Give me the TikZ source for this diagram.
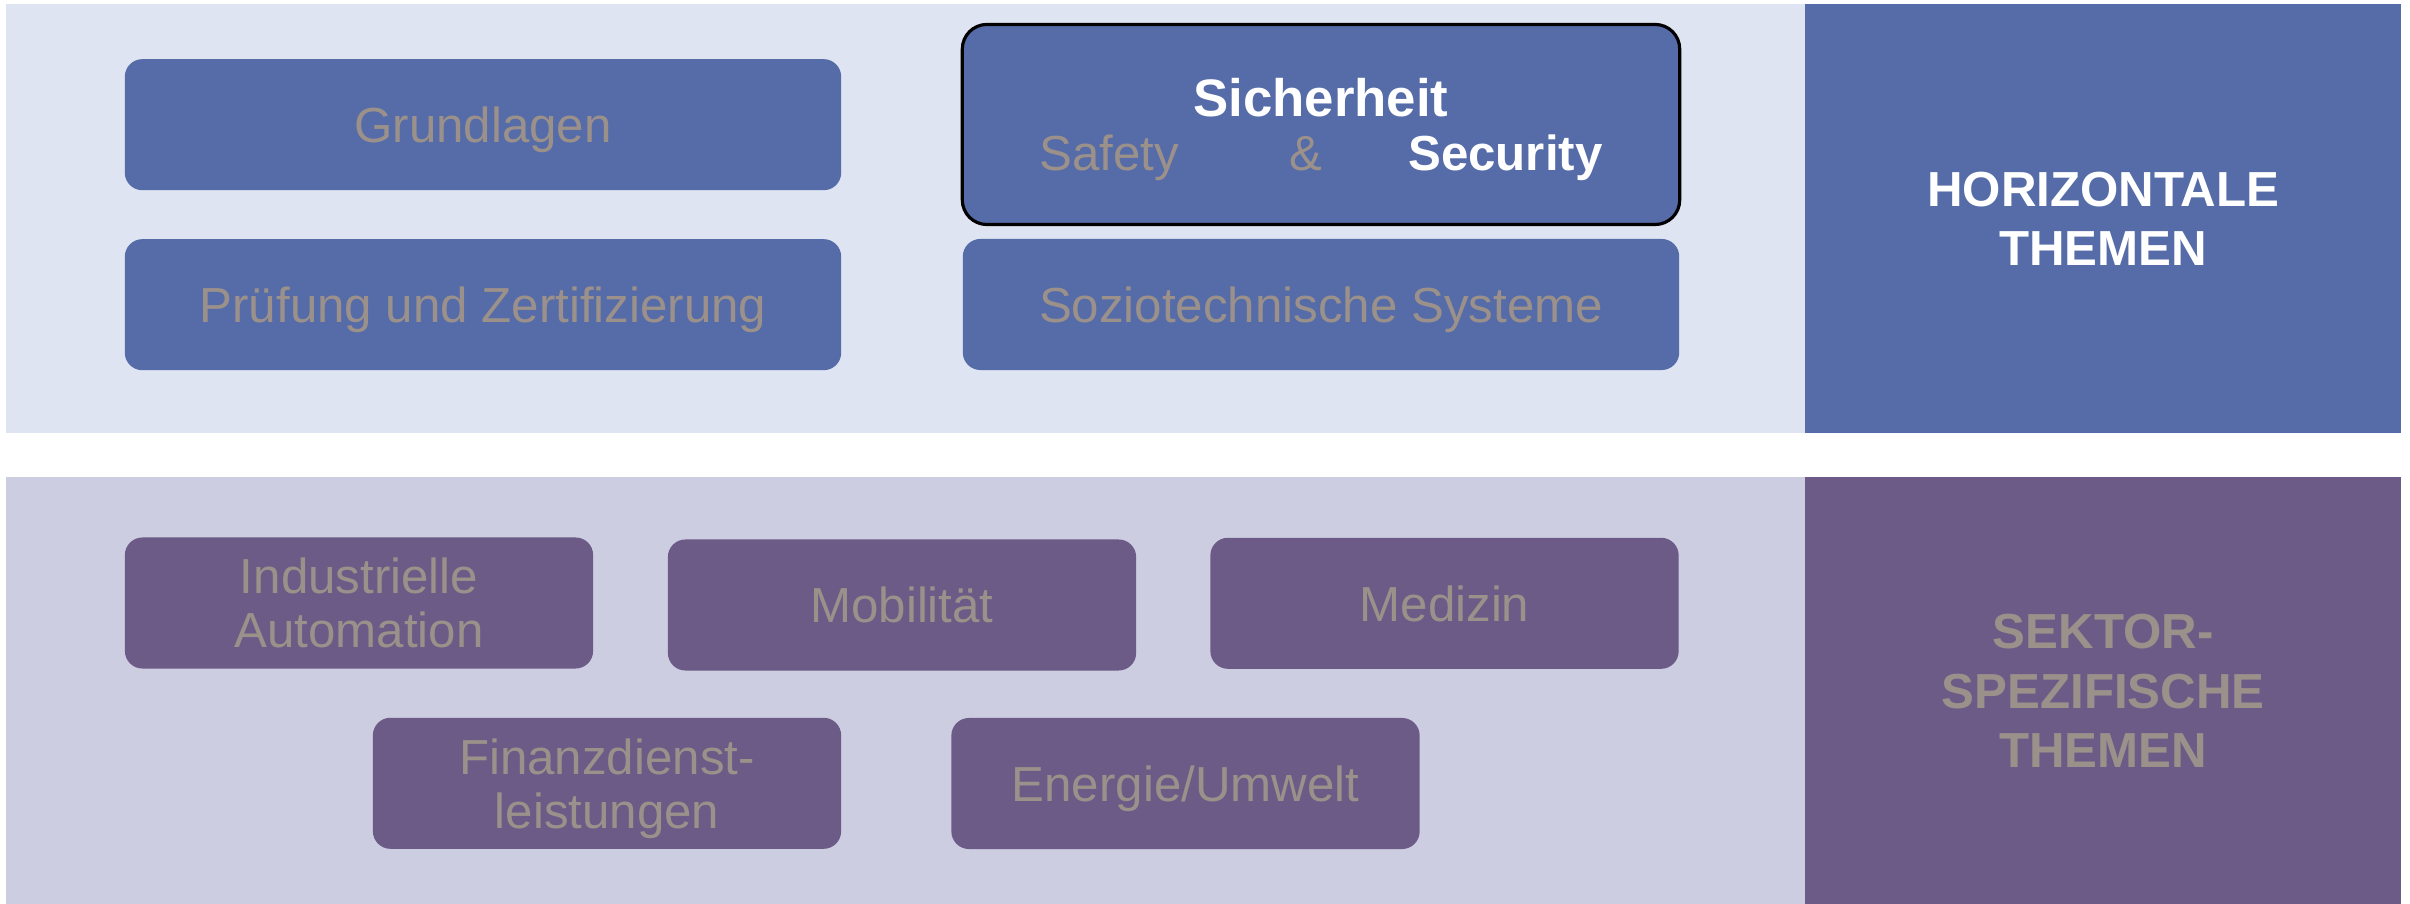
\documentclass[tikz,border=0pt]{standalone}
\usepackage{fontspec}
\setmainfont{Liberation Sans}
\definecolor{bandblue}{HTML}{DEE4F1}
\definecolor{boxblue}{HTML}{566CA8}
\definecolor{bandlilac}{HTML}{CCCDE1}
\definecolor{boxlilac}{HTML}{6C5B87}
\definecolor{labelgrey}{HTML}{9B918A}
\begin{document}
\begin{tikzpicture}[x=0.01cm, y=-0.01cm,
  every node/.style={inner sep=0pt, outer sep=0pt, text depth=0pt},
  band/.style={rectangle, anchor=north west},
  sidebox/.style={rectangle, anchor=north west, align=center,
    font=\fontsize{14}{16.9}\selectfont\bfseries},
  topic/.style={rectangle, rounded corners=5pt, align=center,
    minimum height=1.31cm, text=labelgrey,
    font=\fontsize{14}{15.4}\selectfont},
  wide/.style={topic, fill=boxblue, minimum width=7.16cm},
  sector/.style={topic, fill=boxlilac, minimum width=4.68cm}]
\useasboundingbox (0,0) rectangle (2410,904);

% horizontal topics
\node[band, fill=bandblue, minimum width=17.99cm, minimum height=4.29cm] (topband) at (6,4) {};
\node[sidebox, fill=boxblue, text=white, minimum width=5.96cm, minimum height=4.29cm] (horiz) at (1805,4) {HORIZONTALE\\THEMEN};

\node[wide] (grund) at (483,124.7) {Grundlagen};
\node[wide] (pruef) at (483,304.7) {Prüfung und Zertifizierung};
\node[topic, fill=boxblue, draw=black, line width=0.9pt, rounded corners=7pt,
  minimum width=7.17cm, minimum height=2.00cm] (sicher) at (1321,124.5)
  {{\fontsize{15}{15.4}\selectfont\bfseries\color{white}Sicherheit}\\
   Safety\hspace{31.3pt}\&\hspace{24.5pt}{\bfseries\color{white}Security}};
\node[wide] (sozio) at (1321,304.5) {Soziotechnische Systeme};

% sector-specific topics
\node[band, fill=bandlilac, minimum width=17.99cm, minimum height=4.28cm] (botband) at (6,476.7) {};
\node[sidebox, fill=boxlilac, text=labelgrey, minimum width=5.96cm, minimum height=4.28cm] (sektor) at (1805,476.7) {SEKTOR-\\SPEZIFISCHE\\THEMEN};

\node[sector] (indus) at (359,603) {Industrielle\\Automation};
\node[sector] (mobil) at (902,605) {Mobilität};
\node[sector] (medizin) at (1444.5,603.3) {Medizin};
\node[sector] (finanz) at (607,783.3) {Finanzdienst-\\leistungen};
\node[sector] (energie) at (1185.5,783.5) {Energie/Umwelt};
\end{tikzpicture}
\end{document}
